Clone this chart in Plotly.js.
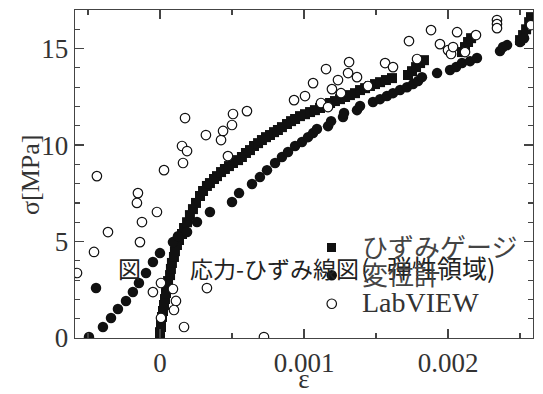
<!DOCTYPE html>
<html><head><meta charset="utf-8">
<script src="https://cdn.plot.ly/plotly-3.0.1.min.js"></script>
<style>body{margin:0;background:#fff}#chart{width:543px;height:394px}</style>
</head><body><div id="chart"></div>
<script>
// Strain gauge (filled squares)
const gaugeX = [0, 0, 0.000007, 0.000007, 0.000014, 0.000021, 0.000028, 0.000035, 0.000042, 0.00005, 0.000056, 0.00007, 0.000076, 0.000083, 0.000097, 0.000104, 0.000118, 0.000132, 0.000153, 0.000167, 0.000188, 0.000208, 0.000229, 0.00025, 0.000278, 0.000299, 0.000326, 0.000347, 0.000375, 0.000396, 0.000424, 0.000451, 0.000479, 0.000507, 0.000542, 0.000569, 0.000597, 0.000625, 0.000653, 0.000681, 0.000708, 0.000736, 0.000764, 0.000792, 0.000819, 0.000847, 0.000882, 0.00091, 0.000938, 0.000972, 0.001007, 0.001042, 0.001076, 0.001111, 0.001146, 0.001181, 0.001215, 0.00125, 0.001285, 0.001319, 0.001354, 0.001389, 0.001424, 0.001458, 0.001493, 0.001528, 0.001569, 0.001611, 0.001722, 0.00175, 0.001778, 0.001806, 0.001833, 0.002097, 0.002118, 0.002139, 0.00216, 0.0025, 0.002521, 0.002542, 0.002563, 0.002576];
const gaugeY = [0, 0.3, 0.57, 0.83, 1.09, 1.4, 1.71, 2.02, 2.33, 2.64, 2.95, 3.26, 3.58, 3.89, 4.2, 4.5, 4.82, 5.08, 5.39, 5.7, 6.0, 6.37, 6.68, 7.0, 7.36, 7.62, 7.88, 8.03, 8.24, 8.39, 8.6, 8.76, 8.91, 9.07, 9.22, 9.38, 9.59, 9.74, 9.95, 10.1, 10.26, 10.41, 10.52, 10.67, 10.78, 10.93, 11.09, 11.24, 11.35, 11.5, 11.6, 11.71, 11.81, 11.92, 12.07, 12.18, 12.28, 12.38, 12.49, 12.59, 12.69, 12.85, 12.95, 13.06, 13.16, 13.26, 13.37, 13.47, 13.63, 13.83, 14.04, 14.25, 14.4, 14.82, 15.08, 15.34, 15.54, 15.44, 15.7, 16.0, 16.37, 16.63];

// Displacement meter (filled circles)
const dispX = [-0.000493, -0.000444, -0.000396, -0.00034, -0.000292, -0.000236, -0.000188, -0.000146, -0.000097, -0.000049, 0, 0.00009, 0.000125, 0.000188, 0.000257, 0.000347, 0.0005, 0.000549, 0.000639, 0.000694, 0.000743, 0.000799, 0.000847, 0.000889, 0.000938, 0.000986, 0.001028, 0.001063, 0.00109, 0.001167, 0.001188, 0.001271, 0.001278, 0.001368, 0.001389, 0.001479, 0.001528, 0.001576, 0.001618, 0.001667, 0.001715, 0.001757, 0.001792, 0.001819, 0.001924, 0.002014, 0.002056, 0.002097, 0.002153, 0.002201, 0.002361, 0.002382, 0.00241, 0.0025, 0.002528];
const dispY = [0.05, 2.59, 0.57, 1.04, 1.5, 1.92, 2.38, 2.85, 3.37, 3.94, 4.4, 4.97, 5.28, 5.49, 6.01, 6.53, 7.05, 7.51, 7.98, 8.34, 8.7, 9.07, 9.38, 9.64, 9.95, 10.16, 10.41, 10.62, 10.83, 10.98, 11.24, 11.45, 11.66, 11.81, 12.02, 12.23, 12.38, 12.54, 12.69, 12.85, 13.0, 13.16, 13.32, 13.52, 13.73, 13.89, 14.04, 14.25, 14.35, 14.51, 14.87, 15.08, 15.18, 15.34, 15.54];

// LabVIEW (open circles)
const labX = [-0.000576, -0.000458, -0.000438, -0.000361, -0.000153, -0.00016, -0.000139, -0.000125, -0.000021, 0.000028, 0.000153, 0.000174, 0.00016, 0.000188, 0.000007, -0.000049, 0.00009, 0.000111, 0.000097, 0.000007, 0.000167, 0.000326, 0.000722, 0.000319, 0.000424, 0.000438, 0.0005, 0.000507, 0.000604, 0.000472, 0.000931, 0.001007, 0.001063, 0.001118, 0.001167, 0.001194, 0.001236, 0.001257, 0.001153, 0.001306, 0.001313, 0.001368, 0.001444, 0.001563, 0.001618, 0.001729, 0.001785, 0.001882, 0.001944, 0.002, 0.002021, 0.002035, 0.002063, 0.002118, 0.002194, 0.00234, 0.00234, 0.00234, 0.002576];
const labY = [3.37, 4.46, 8.39, 5.49, 7.51, 7.0, 4.97, 6.01, 6.53, 8.7, 9.95, 11.4, 9.07, 9.69, 2.85, 2.38, 2.54, 1.92, 1.45, 1.04, 0.57, 2.59, 0.05, 10.52, 10.26, 10.73, 11.04, 11.61, 11.76, 9.43, 12.33, 12.54, 13.21, 12.18, 11.97, 12.9, 13.37, 12.69, 13.94, 13.73, 14.3, 13.52, 13.06, 14.25, 14.04, 15.39, 14.46, 15.96, 15.23, 14.92, 14.72, 15.08, 15.85, 14.82, 15.7, 16.48, 16.27, 16.06, 16.22];

const seriesNames = ['ひずみゲージ', '変位計', 'LabVIEW'];
const xTickVals = [0, 0.001, 0.002];
const xTickText = ['0', '0.001', '0.002'];
const captionHead = '図';
const captionBody = '応力-ひずみ線図';
const captionTail = '(\u2002\u2009弾性領域)';
const xTitle = 'ε';
const yTitle = 'σ[MPa]';

const serif = 'Liberation Serif, serif';
const cjk = 'Noto Sans CJK JP, sans-serif';
const ink = '#111';
const axisCol = '#444';

// plot area in pixels: left 75, right 533, top 10, bottom 338
const L = 75, R = 533, T = 10, B = 338;
const px = v => (v - L) / (R - L);
const py = v => (B - v) / (B - T);

const traces = [
  {x: gaugeX, y: gaugeY, name: seriesNames[0], type: 'scatter', mode: 'markers',
   marker: {symbol: 'square', size: 10, color: ink}},
  {x: dispX, y: dispY, name: seriesNames[1], type: 'scatter', mode: 'markers',
   marker: {symbol: 'circle', size: 10.5, color: ink}},
  {x: labX, y: labY, name: seriesNames[2], type: 'scatter', mode: 'markers',
   marker: {symbol: 'circle', size: 9.5, color: '#fff', line: {color: ink, width: 1.2}}}
];

const axisCommon = {
  showline: true, linecolor: axisCol, linewidth: 1.3, mirror: 'allticks',
  ticks: 'inside', ticklen: 9, tickwidth: 1.2, tickcolor: axisCol,
  showgrid: false, zeroline: false,
  tickfont: {family: serif, size: 27, color: '#333'}
};

const layout = {
  width: 543, height: 394,
  margin: {l: L, r: 543 - R, t: T, b: 394 - B},
  paper_bgcolor: '#fff', plot_bgcolor: '#fff',
  showlegend: false,
  xaxis: Object.assign({}, axisCommon, {
    range: [-0.00059, 0.00259], tickmode: 'array', tickvals: xTickVals, ticktext: xTickText,
    minor: {dtick: 0.0005, tick0: 0, ticks: 'inside', ticklen: 5, tickwidth: 1.2, tickcolor: axisCol},
    title: {text: xTitle, font: {family: serif, size: 27, color: '#333'}, standoff: 14}
  }),
  yaxis: Object.assign({}, axisCommon, {
    range: [0, 17], dtick: 5, tick0: 0,
    minor: {dtick: 1, ticks: 'inside', ticklen: 5, tickwidth: 1.2, tickcolor: axisCol}
  }),
  shapes: [
    {type: 'rect', xref: 'paper', yref: 'paper', x0: px(327), x1: px(336), y0: py(252), y1: py(243),
     fillcolor: ink, line: {width: 0}},
    {type: 'circle', xref: 'paper', yref: 'paper', x0: px(326.5), x1: px(337), y0: py(280.5), y1: py(270),
     fillcolor: ink, line: {width: 0}},
    {type: 'circle', xref: 'paper', yref: 'paper', x0: px(327), x1: px(336.5), y0: py(308.5), y1: py(299),
     fillcolor: '#fff', line: {color: ink, width: 1.2}}
  ],
  annotations: [
    {xref: 'paper', yref: 'paper', x: px(30), y: py(175),
     xanchor: 'center', yanchor: 'middle', textangle: -90,
     text: yTitle, showarrow: false, font: {family: serif, size: 26, color: '#333'}},
    {xref: 'paper', yref: 'paper', x: px(116), y: py(268), xanchor: 'left', yanchor: 'middle',
     text: captionHead, showarrow: false, font: {family: cjk, size: 23, color: '#222'}},
    {xref: 'paper', yref: 'paper', x: px(361), y: py(268), xanchor: 'right', yanchor: 'middle',
     text: captionBody, showarrow: false, font: {family: cjk, size: 23, color: '#222'}},
    {xref: 'paper', yref: 'paper', x: px(359), y: py(267), xanchor: 'left', yanchor: 'middle',
     text: captionTail, showarrow: false, font: {family: cjk, size: 25, color: '#222'}},
    {xref: 'paper', yref: 'paper', x: px(360), y: py(245), xanchor: 'left', yanchor: 'middle',
     text: seriesNames[0], showarrow: false, font: {family: cjk, size: 26, color: '#444'}},
    {xref: 'paper', yref: 'paper', x: px(360), y: py(273), xanchor: 'left', yanchor: 'middle',
     text: seriesNames[1], showarrow: false, font: {family: cjk, size: 26, color: '#444'}},
    {xref: 'paper', yref: 'paper', x: px(360), y: py(302), xanchor: 'left', yanchor: 'middle',
     text: seriesNames[2], showarrow: false, font: {family: serif, size: 28, color: '#333'}}
  ]
};

Plotly.newPlot('chart', traces, layout, {displayModeBar: false, staticPlot: true});
</script>
</body></html>
